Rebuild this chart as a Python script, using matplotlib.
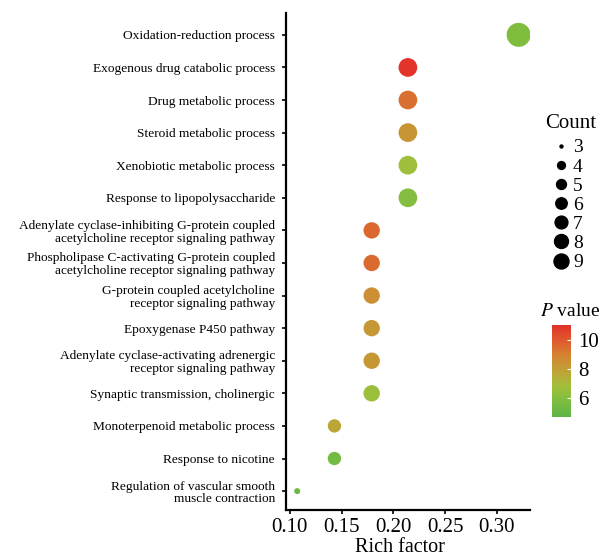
import numpy as np
import matplotlib
matplotlib.use("Agg")
import matplotlib.pyplot as plt
from matplotlib.colors import LinearSegmentedColormap, Normalize
from matplotlib.lines import Line2D

plt.rcParams['font.family'] = ['Liberation Serif', 'DejaVu Serif']
plt.rcParams['mathtext.fontset'] = 'stix'

# data (top to bottom)
terms = [
    "Oxidation-reduction process",
    "Exogenous drug catabolic process",
    "Drug metabolic process",
    "Steroid metabolic process",
    "Xenobiotic metabolic process",
    "Response to lipopolysaccharide",
    "Adenylate cyclase-inhibiting G-protein coupled\nacetylcholine receptor signaling pathway",
    "Phospholipase C-activating G-protein coupled\nacetylcholine receptor signaling pathway",
    "G-protein coupled acetylcholine\nreceptor signaling pathway",
    "Epoxygenase P450 pathway",
    "Adenylate cyclase-activating adrenergic\nreceptor signaling pathway",
    "Synaptic transmission, cholinergic",
    "Monoterpenoid metabolic process",
    "Response to nicotine",
    "Regulation of vascular smooth\nmuscle contraction",
]
rich = [0.321, 0.214, 0.214, 0.214, 0.214, 0.214, 0.179, 0.179, 0.179, 0.179,
        0.179, 0.179, 0.143, 0.143, 0.107]
counts = [9, 6, 6, 6, 6, 6, 5, 5, 5, 5, 5, 5, 4, 4, 3]
pvals = [5.9, 10.9, 9.4, 8.3, 6.7, 6.0, 9.6, 9.5, 8.5, 8.2, 8.2, 6.6, 7.7, 5.5, 5.2]

cmap = LinearSegmentedColormap.from_list(
    "gr", ["#5db446", "#7bbd40", "#a2bf3a", "#bfa236", "#d48432", "#df5a2d", "#e2302a"])
vmin, vmax = 4.7, 11.0
norm = Normalize(vmin, vmax)

def diam_px(c, lo, hi):
    return lo + (hi - lo) * np.sqrt((np.asarray(c) - 3) / 6.0)

fig = plt.figure(figsize=(6.06, 5.57), dpi=100)
ax = fig.add_axes([286/606, 1 - 510/557, (530-286)/606, (510-13)/557])

ypos = np.arange(1, len(terms) + 1)
d = diam_px(counts, 6, 24) * 0.72
ax.scatter(rich, ypos, s=d**2, c=pvals, cmap=cmap, norm=norm, linewidths=0, zorder=3)

ax.set_ylim(15.58, 0.33)
ax.set_xlim(0.0962, 0.332)
ax.set_yticks(ypos)
ax.set_yticklabels(terms, fontsize=9.6, linespacing=1.1)
ax.set_xticks([0.10, 0.15, 0.20, 0.25, 0.30])
ax.set_xticklabels(["0.10", "0.15", "0.20", "0.25", "0.30"], fontsize=15)
ax.set_xlabel("Rich factor", fontsize=14.5)
ax.xaxis.set_label_coords((400-286)/(530-286), -0.057)
ax.spines['top'].set_visible(False)
ax.spines['right'].set_visible(False)
ax.spines['left'].set_linewidth(1.6)
ax.spines['bottom'].set_linewidth(1.6)
ax.tick_params(axis='y', length=3, width=1.2, pad=5)
ax.tick_params(axis='x', length=3, width=1.2, pad=3)

# size legend
lc = [3, 4, 5, 6, 7, 8, 9]
ld = diam_px(lc, 3, 15) * 0.72
handles = [Line2D([], [], marker='o', linestyle='', color='black', markersize=m) for m in ld]
leg = fig.legend(handles, [str(c) for c in lc], loc='upper left',
                 bbox_to_anchor=(540/606, 1 - 129/557), frameon=False, fontsize=14,
                 handletextpad=0.0, labelspacing=0.08,
                 borderpad=0, handlelength=1.2)
fig.text(571/606, 1 - 124/557, "Count", fontsize=15, ha='center', va='center')

# colorbar
cax = fig.add_axes([552/606, 1 - 417/557, 19/606, 92/557])
sm = plt.cm.ScalarMappable(norm=norm, cmap=cmap)
cb = fig.colorbar(sm, cax=cax)
cb.outline.set_visible(False)
cb.set_ticks([6, 8, 10])
cb.ax.tick_params(labelsize=15, length=3, color='white', direction='in', pad=5)
fig.text(570/606, 1 - 312/557, "$P$ value", fontsize=14, ha='center', va='center')

fig.savefig("out.png", dpi=100)
